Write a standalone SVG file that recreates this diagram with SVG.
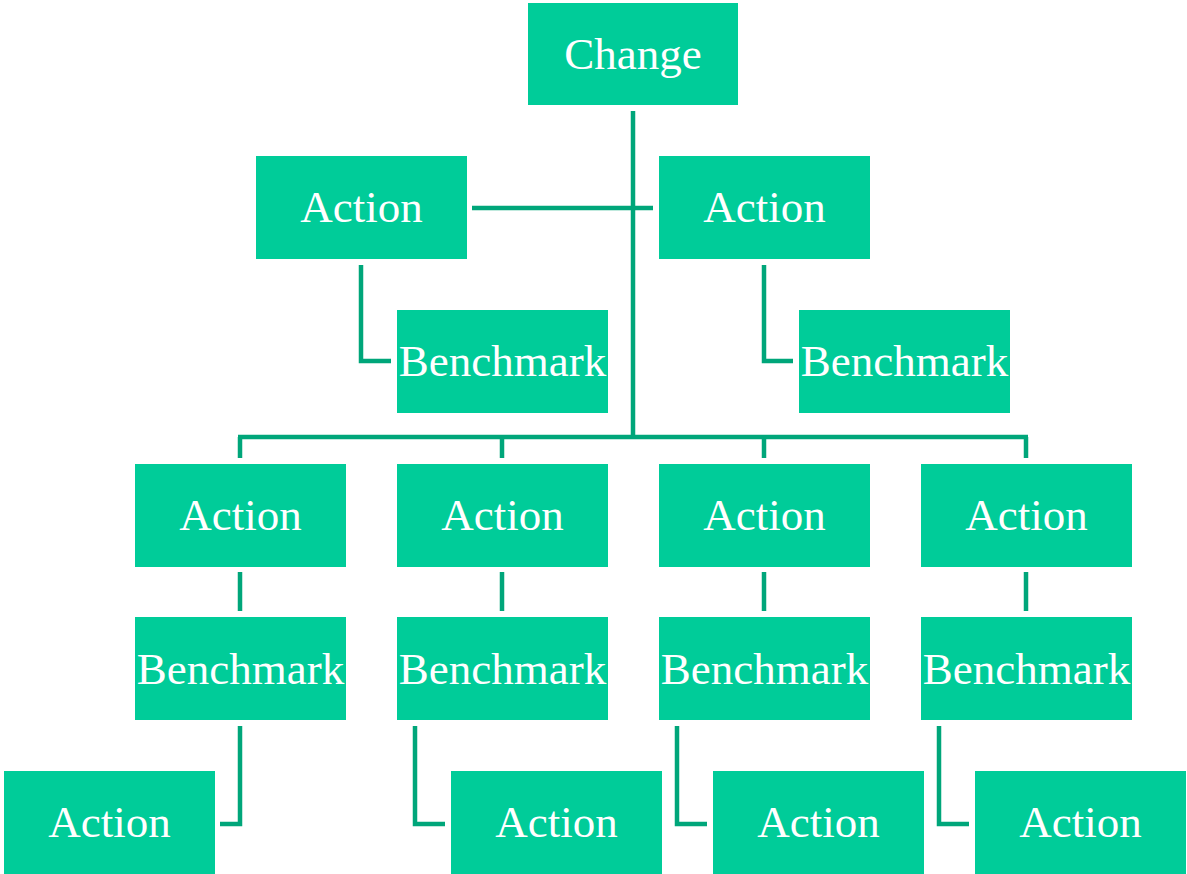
<svg xmlns="http://www.w3.org/2000/svg" width="1187" height="874" viewBox="0 0 1187 874">
<style>
.box{fill:#00CC99}
.t{font-family:"Liberation Serif","Times New Roman",serif;font-size:45px;fill:#FFFFFF;text-anchor:middle}
.c{fill:none;stroke:#00A67A;stroke-width:4.5;stroke-linecap:butt;stroke-linejoin:miter}
</style>
<rect width="1187" height="874" fill="#FFFFFF"/>
<g id="connectors">
<path class="c" d="M633,111 V437"/>
<path class="c" d="M472,208 H653"/>
<path class="c" d="M361,265 V361 H391"/>
<path class="c" d="M764,265 V361 H793"/>
<path class="c" d="M238,437 H1028"/>
<path class="c" d="M240,437 V458 M502,437 V458 M764,437 V458 M1026,437 V458"/>
<path class="c" d="M240,572 V611 M502,572 V611 M764,572 V611 M1026,572 V611"/>
<path class="c" d="M240,726 V824 H220"/>
<path class="c" d="M415,726 V824 H445"/>
<path class="c" d="M677,726 V824 H707"/>
<path class="c" d="M939,726 V824 H969"/>
</g>
<g id="n-change"><rect class="box" x="528" y="3" width="210" height="102"/><text class="t" x="633" y="69">Change</text></g>
<g id="n-action-l"><rect class="box" x="256" y="156" width="211" height="103"/><text class="t" x="361.5" y="222">Action</text></g>
<g id="n-action-r"><rect class="box" x="659" y="156" width="211" height="103"/><text class="t" x="764.5" y="222">Action</text></g>
<g id="n-bench-l"><rect class="box" x="397" y="310" width="211" height="103"/><text class="t" x="502.5" y="376">Benchmark</text></g>
<g id="n-bench-r"><rect class="box" x="799" y="310" width="211" height="103"/><text class="t" x="904.5" y="376">Benchmark</text></g>
<g id="n-action-1"><rect class="box" x="135" y="464" width="211" height="103"/><text class="t" x="240.5" y="530">Action</text></g>
<g id="n-action-2"><rect class="box" x="397" y="464" width="211" height="103"/><text class="t" x="502.5" y="530">Action</text></g>
<g id="n-action-3"><rect class="box" x="659" y="464" width="211" height="103"/><text class="t" x="764.5" y="530">Action</text></g>
<g id="n-action-4"><rect class="box" x="921" y="464" width="211" height="103"/><text class="t" x="1026.5" y="530">Action</text></g>
<g id="n-bench-1"><rect class="box" x="135" y="617" width="211" height="103"/><text class="t" x="240.5" y="684">Benchmark</text></g>
<g id="n-bench-2"><rect class="box" x="397" y="617" width="211" height="103"/><text class="t" x="502.5" y="684">Benchmark</text></g>
<g id="n-bench-3"><rect class="box" x="659" y="617" width="211" height="103"/><text class="t" x="764.5" y="684">Benchmark</text></g>
<g id="n-bench-4"><rect class="box" x="921" y="617" width="211" height="103"/><text class="t" x="1026.5" y="684">Benchmark</text></g>
<g id="n-action-5"><rect class="box" x="4" y="771" width="211" height="103"/><text class="t" x="109.5" y="837">Action</text></g>
<g id="n-action-6"><rect class="box" x="451" y="771" width="211" height="103"/><text class="t" x="556.5" y="837">Action</text></g>
<g id="n-action-7"><rect class="box" x="713" y="771" width="211" height="103"/><text class="t" x="818.5" y="837">Action</text></g>
<g id="n-action-8"><rect class="box" x="975" y="771" width="211" height="103"/><text class="t" x="1080.5" y="837">Action</text></g>
</svg>
